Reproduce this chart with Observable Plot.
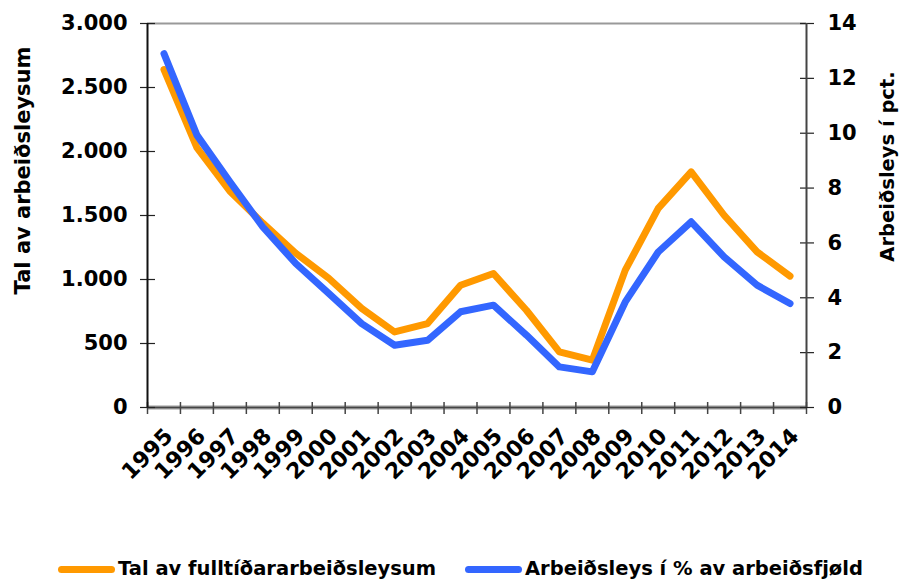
<!DOCTYPE html>
<html><head><meta charset="utf-8">
<script src="https://cdn.jsdelivr.net/npm/d3@7"></script>
<script src="https://cdn.jsdelivr.net/npm/@observablehq/plot@0.6"></script>
<style>
body{margin:0;background:#fff;font-family:"DejaVu Sans",Verdana,sans-serif;font-weight:bold;color:#000;}
#chart svg{display:block;}
#legend{position:relative;height:35px;width:901px;}
.item{position:absolute;top:13px;display:flex;align-items:center;font-size:19.5px;white-space:nowrap;line-height:22px;}
.sw{display:inline-block;width:57px;height:7px;border-radius:4px;margin-right:3px;}
</style></head><body><div id="chart"></div><div id="legend"></div>
<script>
const years = [1995,1996,1997,1998,1999,2000,2001,2002,2003,2004,2005,2006,2007,2008,2009,2010,2011,2012,2013,2014];
const fulltime = [2640,2030,1690,1440,1205,1010,775,590,656,955,1047,760,434,370,1073,1555,1841,1502,1216,1026];
const percent = [12.9,9.93,8.23,6.58,5.25,4.16,3.06,2.27,2.45,3.49,3.73,2.64,1.48,1.3,3.85,5.67,6.77,5.49,4.46,3.79];
const leftTicks = [0,500,1000,1500,2000,2500,3000];
const rightTicks = [0,2,4,6,8,10,12,14];
const leftTitle = "Tal av arbeiðsleysum";
const rightTitle = "Arbeiðsleys í pct.";
const seriesNames = ["Tal av fulltíðararbeiðsleysum","Arbeiðsleys í % av arbeiðsfjøld"];
const seriesColors = ["#FF9900","#3366FF"];

const leftMax = 3000, rightMax = 14;
const k = leftMax / rightMax;
const data = years.map((y,i)=>({year:y, count:fulltime[i], pct:percent[i]}));
const bounds = d3.range(years.length+1).map(i => years[0]-0.5+i);
const fmtDot = d => d3.format(",")(d).replace(/,/g,".");

const chart = Plot.plot({
  width:901, height:545,
  marginLeft:147, marginRight:95, marginTop:23, marginBottom:138,
  style:{fontFamily:"'DejaVu Sans', Verdana, sans-serif", fontWeight:"bold", fontSize:"21px", color:"#000", background:"#fff"},
  x:{domain:[bounds[0], bounds[bounds.length-1]]},
  y:{domain:[0,leftMax]},
  marks:[
    Plot.ruleY([leftMax], {stroke:"#999", strokeWidth:2}),
    Plot.ruleY([0], {stroke:"#ccc", strokeWidth:5}),
    Plot.ruleY([0], {stroke:"#444", strokeWidth:2}),
    Plot.axisX(bounds, {tickSize:12, dy:-5, text:null, stroke:"#444", strokeWidth:1.5, label:null}),
    Plot.axisX(years, {tickSize:0, tickPadding:25, dx:5, tickRotate:-45, tickFormat:d=>String(d), label:null, fontSize:22}),
    Plot.axisY(leftTicks, {tickSize:15, dx:8, text:null, stroke:"#222", strokeWidth:1.2, label:null}),
    Plot.axisY(leftTicks, {tickSize:0, tickPadding:20, tickFormat:fmtDot, label:null, fontSize:21}),
    Plot.axisY(rightTicks.map(v=>v*k), {anchor:"right", tickSize:14, dx:-7, text:null, stroke:"#222", strokeWidth:1.2, label:null}),
    Plot.axisY(rightTicks.map(v=>v*k), {anchor:"right", tickSize:0, tickPadding:21, tickFormat:v=>String(Math.round(v/k)), label:null, fontSize:21}),
    Plot.ruleX([bounds[0]], {stroke:"#111", strokeWidth:2}),
    Plot.ruleX([bounds[bounds.length-1]], {stroke:"#444", strokeWidth:2}),
    Plot.line(data, {x:"year", y:"count", stroke:seriesColors[0], strokeWidth:7, strokeLinecap:"round", strokeLinejoin:"round"}),
    Plot.line(data, {x:"year", y:d=>d.pct*k, stroke:seriesColors[1], strokeWidth:7, strokeLinecap:"round", strokeLinejoin:"round"}),
    Plot.text([leftTitle], {frameAnchor:"left", textAnchor:"middle", rotate:-90, dx:-124, dy:-45, fontSize:21, fontWeight:"bold"}),
    Plot.text([rightTitle], {frameAnchor:"right", textAnchor:"middle", rotate:-90, dx:81, dy:-49, fontSize:19.5, fontWeight:"bold"})
  ]
});
document.getElementById("chart").appendChild(chart);

const legend = document.getElementById("legend");
const lefts = [58, 465];
seriesNames.forEach((n,i)=>{
  const it = document.createElement("div");
  it.className = "item";
  it.style.left = lefts[i] + "px";
  const sw = document.createElement("span");
  sw.className = "sw"; sw.style.background = seriesColors[i];
  const t = document.createElement("span"); t.textContent = n;
  it.appendChild(sw); it.appendChild(t);
  legend.appendChild(it);
});
</script></body></html>
